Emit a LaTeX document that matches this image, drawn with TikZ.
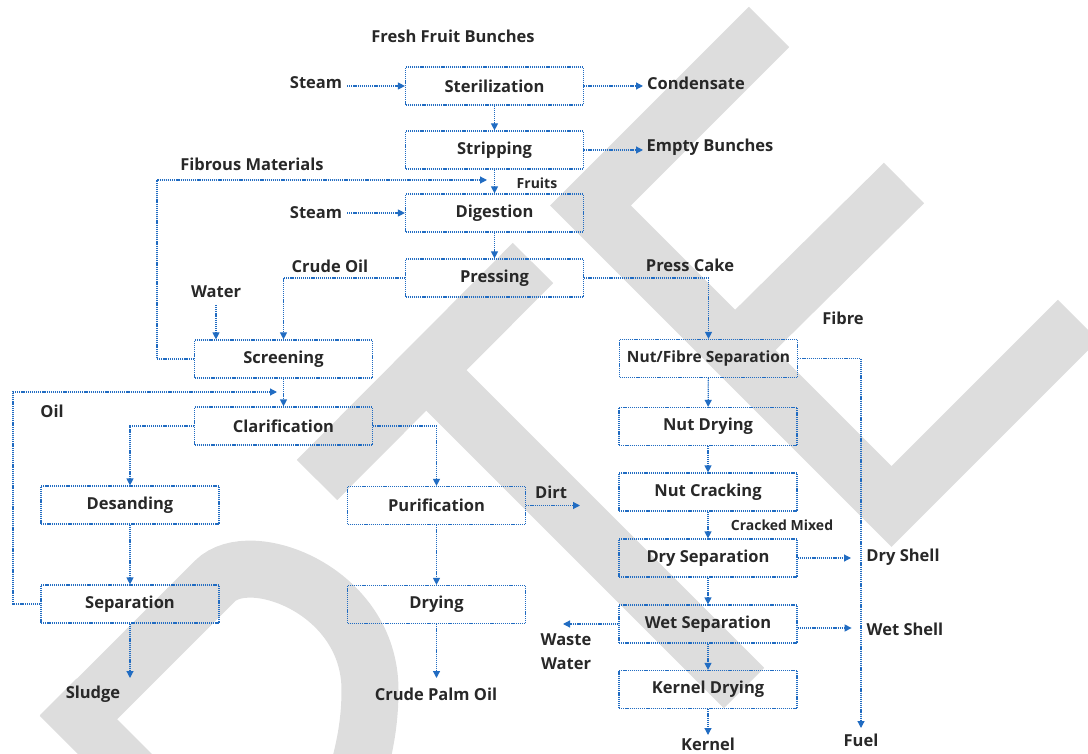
\documentclass[tikz,border=0pt]{standalone}
\usepackage{fontspec}
\IfFontExistsTF{Open Sans SemiBold}{\setmainfont{Open Sans SemiBold}}{\setmainfont{Open Sans}[UprightFont=* Bold]}
\usetikzlibrary{arrows.meta}
\definecolor{flow}{RGB}{33,108,194}
\definecolor{wm}{RGB}{221,221,221}
\definecolor{txt}{RGB}{40,40,40}
\tikzset{
  flowline/.style={draw=flow, line width=1.2pt, dash pattern=on 1.2pt off 0.9pt},
  arr/.style={flowline, -{Triangle[length=7pt,width=7pt]}},
  proc/.style={flowline, minimum width=178pt, minimum height=38pt, inner sep=0pt,
    font=\fontsize{16.5}{20}\selectfont, text=txt},
  lbl/.style={inner sep=0pt, font=\fontsize{16.5}{20}\selectfont, text=txt, align=center},
  small/.style={inner sep=0pt, font=\fontsize{14}{17}\selectfont, text=txt},
  wmark/.style={draw=wm, line width=57pt}
}
\begin{document}
\begin{tikzpicture}[x=1pt,y=-1pt]
\useasboundingbox (0,0) rectangle (1088,754);
% watermark
\begin{scope}
\clip (0,0) rectangle (1088,754);
\draw[wmark, line join=miter] (769,27) -- (590.5,205.5) -- (891.5,506.5) -- (1078,320);
\draw[wmark] (904,183) -- (735,350);
\draw[wmark] (317,480) -- (533,263);
\draw[wmark] (426,370) -- (744,688);
\draw[wmark] (60,736) -- (215,581) .. controls (250,546) and (370,590) .. (370,690) .. controls (370,730) and (362,760) .. (350,800);
\fill[wm] (40,715) -- (76.5,678.5) -- (160,762) -- (87,762) -- cycle;
\end{scope}
% process boxes
\node[proc] (ster) at (494.5,86) {Sterilization};
\node[proc] (strip) at (494.5,150) {Stripping};
\node[proc] (dig) at (494.5,213) {Digestion};
\node[proc] (press) at (494.5,278) {Pressing};
\node[proc] (scr) at (283.5,359) {Screening};
\node[proc] (clar) at (283.5,426) {Clarification};
\node[proc] (desand) at (130,505) {Desanding};
\node[proc] (sep) at (130,604) {Separation};
\node[proc] (puri) at (436.5,505.5) {Purification};
\node[proc] (dry) at (436.5,604.5) {Drying};
\node[proc, font=\fontsize{15.5}{19}\selectfont] (nfs) at (708.5,358.5) {Nut/Fibre Separation};
\node[proc] (nutd) at (708,426.5) {Nut Drying};
\node[proc] (nutc) at (708,492) {Nut Cracking};
\node[proc] (drys) at (708,558) {Dry Separation};
\node[proc] (wets) at (708,624) {Wet Separation};
\node[proc] (kerd) at (708,689.5) {Kernel Drying};
% labels
\node[lbl] (ffb) at (453,36) {Fresh Fruit Bunches};
\node[lbl] (steam1) at (316,83) {Steam};
\node[lbl] (cond) at (696,83) {Condensate};
\node[lbl] (empty) at (710,147) {Empty Bunches};
\node[lbl] (fibm) at (252,164) {Fibrous Materials};
\node[small] (fruits) at (537,183) {Fruits};
\node[lbl] (steam2) at (316,213) {Steam};
\node[lbl] (crude) at (330,266) {Crude Oil};
\node[lbl] (water) at (216,292) {Water};
\node[lbl] (pcake) at (690,265) {Press Cake};
\node[lbl] (fibre) at (843,318) {Fibre};
\node[lbl] (oil) at (52,411) {Oil};
\node[lbl] (dirt) at (551,492) {Dirt};
\node[small] (cmix) at (782,525) {Cracked Mixed};
\node[lbl] (dshell) at (903,557) {Dry Shell};
\node[lbl] (wshell) at (905,629) {Wet Shell};
\node[lbl] (waste) at (566,652) {Waste\\[4pt]Water};
\node[lbl] (sludge) at (93,694) {Sludge};
\node[lbl] (cpo) at (436,694) {Crude Palm Oil};
\node[lbl] (kernel) at (708,744) {Kernel};
\node[lbl] (fuel) at (861,740) {Fuel};
% free ends
\coordinate (s1) at (347,86);
\coordinate (s2) at (347,213);
\coordinate (c1) at (643,86);
\coordinate (e1) at (643,150);
\coordinate (fm1) at (157,359);
\coordinate (fm2) at (157,180);
\coordinate (fm3) at (487,180);
\coordinate (w1) at (216,305);
\coordinate (o1) at (13,604);
\coordinate (o2) at (13,392);
\coordinate (o3) at (277,392);
\coordinate (sl) at (130,678);
\coordinate (cp) at (436.5,678);
\coordinate (dt) at (580,505.5);
\coordinate (ww) at (563,624);
\coordinate (dsh) at (851,558);
\coordinate (fu) at (861,728);
\coordinate (ke) at (708,735);
% connectors
\draw[arr] (s1) -- (ster);
\draw[arr] (ster) -- (c1);
\draw[arr] (ster) -- (strip);
\draw[arr] (strip) -- (e1);
\draw[arr] (strip) -- (dig);
\draw[arr] (scr.west) -- (fm1) -- (fm2) -- (fm3);
\draw[arr] (s2) -- (dig);
\draw[arr] (dig) -- (press);
\draw[arr] (press.west) -| (scr.north);
\draw[arr] (press.east) -| (nfs.north);
\draw[arr] (w1) -- (w1 |- scr.north);
\draw[arr] (scr) -- (clar);
\draw[arr] (sep.west) -- (o1) -- (o2) -- (o3);
\draw[arr] (clar.west) -| (desand.north);
\draw[arr] (clar.east) -| (puri.north);
\draw[arr] (desand) -- (sep);
\draw[arr] (puri) -- (dry);
\draw[arr] (sep) -- (sl);
\draw[arr] (dry) -- (cp);
\draw[arr] (puri.east) -- (dt);
\draw[arr] (nfs) -- (nutd);
\draw[arr] (nutd) -- (nutc);
\draw[arr] (nutc) -- (drys);
\draw[arr] (drys) -- (wets);
\draw[arr] (wets) -- (kerd);
\draw[arr] (kerd) -- (ke);
\draw[arr] (wets.west) -- (ww);
\draw[arr] (drys.east) -- (dsh);
\draw[arr] ([yshift=-4pt]wets.east) -- ++(54,0);
\draw[arr] (nfs.east) -| (fu);
\end{tikzpicture}
\end{document}
